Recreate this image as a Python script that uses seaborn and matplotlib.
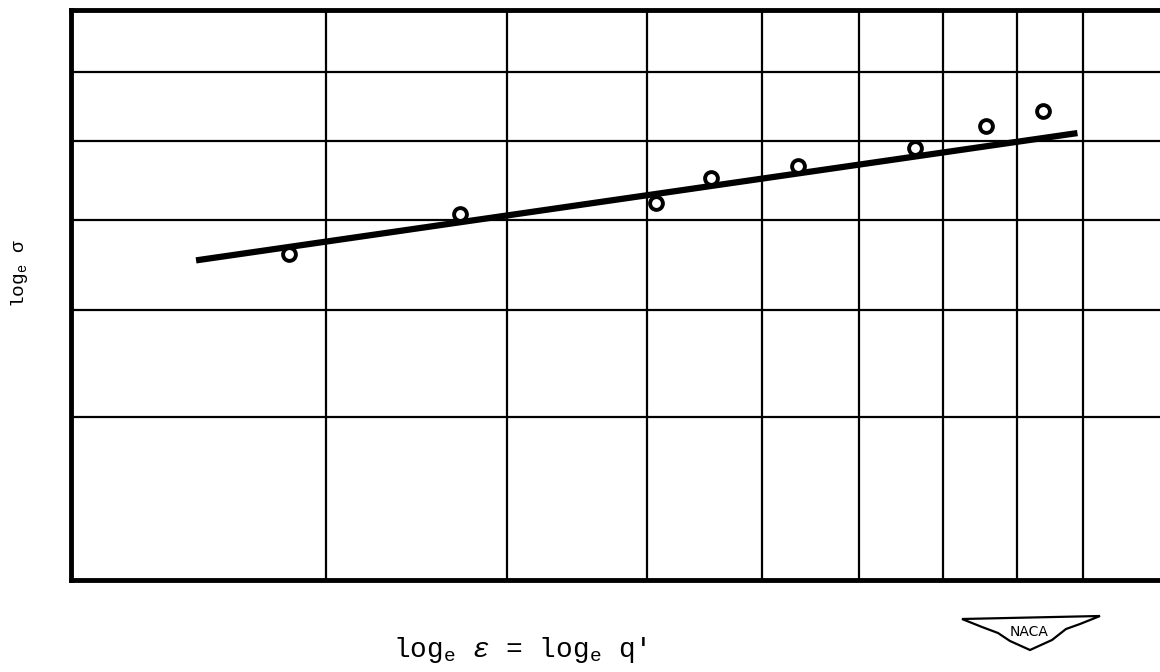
import numpy as np
import pandas as pd
import matplotlib
matplotlib.use("Agg")
import matplotlib.pyplot as plt
import seaborn as sns
from matplotlib.patches import Polygon
from matplotlib.ticker import NullFormatter, NullLocator, FixedLocator

# Measured points (strain vs. stress, both on log scales)
eps_values = [2.83, 3.71, 5.07, 5.53, 6.35, 7.65, 8.57, 9.38]
sigma_values = [6.60, 7.07, 7.20, 7.51, 7.67, 7.91, 8.21, 8.42]

# Fitted straight line on the log-log plot (end points)
fit_eps = [2.44, 9.91]
fit_sigma = [6.53, 8.11]

# Grid positions
x_grid = [3, 4, 5, 6, 7, 8, 9, 10]
y_grid = [5, 6, 7, 8, 9, 10]

x_label = "log$_\\mathrm{e}$ $\\epsilon$ = log$_\\mathrm{e}$ q'"
y_label = "log$_\\mathrm{e}$ σ"

sns.set_style("white")
plt.rcParams["font.family"] = ["Liberation Mono", "DejaVu Sans Mono"]
plt.rcParams["text.color"] = "black"
plt.rcParams["mathtext.fontset"] = "custom"
plt.rcParams["mathtext.rm"] = "Liberation Mono"
plt.rcParams["mathtext.it"] = "Liberation Mono:italic"

fig = plt.figure(figsize=(11.6, 6.72), dpi=100)
W, H = 1160, 672
left, right, top, bottom = 71, 1160, 10, 580
ax = fig.add_axes([left / W, 1 - bottom / H, (right - left) / W, (bottom - top) / H])

pts = pd.DataFrame({"eps": eps_values, "sigma": sigma_values})
fit = pd.DataFrame({"eps": fit_eps, "sigma": fit_sigma})

sns.lineplot(data=fit, x="eps", y="sigma", ax=ax, color="black", lw=4.5,
             solid_capstyle="butt", zorder=3)
sns.scatterplot(data=pts, x="eps", y="sigma", ax=ax, marker="o", s=85,
                facecolor="white", edgecolor="black", linewidth=2.8, zorder=4)

ax.set_xscale("log")
ax.set_yscale("log")
ax.set_xlim(2.0, 11.3)
ax.set_ylim(3.79, 10.0)

ax.xaxis.set_major_locator(FixedLocator(x_grid))
ax.yaxis.set_major_locator(FixedLocator(y_grid))
for axis in (ax.xaxis, ax.yaxis):
    axis.set_minor_locator(NullLocator())
    axis.set_major_formatter(NullFormatter())
    axis.set_minor_formatter(NullFormatter())
ax.tick_params(length=0)
ax.grid(True, color="black", lw=1.6)
ax.set_axisbelow(True)

for side in ("left", "top", "bottom"):
    ax.spines[side].set_color("black")
    ax.spines[side].set_linewidth(3.5)
ax.spines["right"].set_visible(False)

ax.set_xlabel("")
ax.set_ylabel("")
fig.text(520 / W, 1 - 650 / H, x_label, ha="center", va="center", fontsize=20,
         color="black")
fig.text(20 / W, 1 - 273 / H, y_label, ha="center", va="center", fontsize=14,
         rotation=90, color="black")

# NACA wing emblem
wing = [(962, 619), (1100, 616), (1080, 624), (1066, 629), (1052, 640),
        (1030, 650), (1010, 641), (998, 633), (982, 627)]
fig.patches.append(Polygon([(x / W, 1 - y / H) for x, y in wing], closed=True,
                           transform=fig.transFigure, facecolor="white",
                           edgecolor="black", lw=1.6))
fig.text(1029 / W, 1 - 632 / H, "NACA", ha="center", va="center", fontsize=10,
         family="DejaVu Sans", color="black")

fig.savefig("out.png", dpi=100)
